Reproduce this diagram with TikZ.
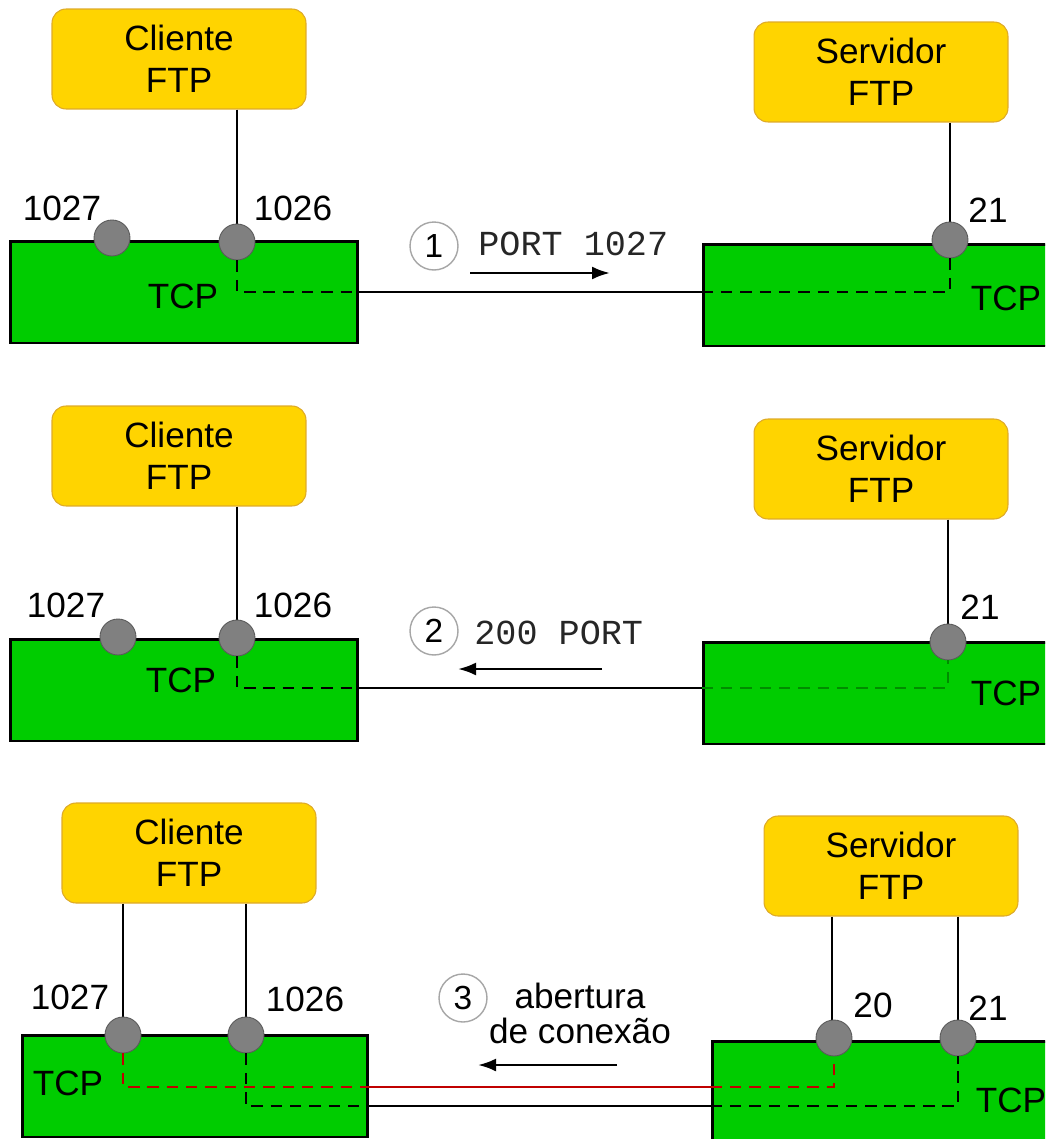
\documentclass[tikz,border=0pt]{standalone}
\usepackage{fontspec}
\setsansfont{Liberation Sans}
\setmonofont{Liberation Mono}
\usepackage{xcolor}
\usepackage{tikz}
\usetikzlibrary{arrows.meta,positioning}
\definecolor{appgold}{RGB}{255,212,0}
\definecolor{appedge}{RGB}{222,170,40}
\definecolor{tcpgreen}{RGB}{0,204,0}
\definecolor{portgray}{RGB}{128,128,128}
\definecolor{dataRed}{RGB}{192,0,0}

\begin{document}
\begin{tikzpicture}[
  x=0.02cm, y=-0.02cm,
  font=\sffamily\fontsize{20}{24}\selectfont,
  app/.style={draw=appedge, fill=appgold, rounded corners=0.28cm, line width=0.6pt,
              align=center, minimum width=5.08cm, minimum height=2cm, inner sep=0pt},
  tcpbox/.style={draw, fill=tcpgreen, line width=1.7pt, minimum height=2.04cm, inner sep=0pt},
  port/.style={circle, draw=portgray!70!black, fill=portgray, line width=0.5pt,
               minimum size=0.72cm, inner sep=0pt},
  plabel/.style={inner sep=0pt},
  stepnum/.style={circle, draw=black!35, line width=0.8pt, minimum size=0.96cm,
                  inner sep=0pt, font=\sffamily\fontsize{19}{20}\selectfont},
  msg/.style={anchor=west, inner sep=0pt, text=black!85,
              font=\ttfamily\fontsize{20}{24}\selectfont},
  conn/.style={line width=1.5pt},
  dconn/.style={conn, dash pattern=on 6.5pt off 4.5pt},
  ar/.style={line width=1.5pt, -{Latex[length=3.6mm, width=2.6mm]}}
]
\useasboundingbox (0,0) rectangle (1045,1139);
\clip (0,0) rectangle (1045,1139);

% ---- 1: PORT 1027
\node[app] (cli1) at (179,59) {Cliente\\FTP};
\node[app] (srv1) at (881,72) {Servidor\\FTP};
\node[tcpbox, minimum width=6.96cm] (ctcp1) at (184,292) {};
\node[tcpbox, minimum width=7.2cm] (stcp1) at (883,295) {};
\node (ttc1) at (183,296) {TCP};
\node (tts1) at (1006,298) {TCP};
\draw[conn] (cli1.south -| 237,0) -- (237,242);
\draw[conn] (srv1.south -| 950,0) -- (950,240);
\node[port] (p1027a) at (112,238) {};
\node[port] (p1026a) at (237,242) {};
\node[port, minimum width=0.68cm] (p21a) at (950,240) {};
\node[plabel] (l1027a) at (62,208) {1027};
\node[plabel] (l1026a) at (293,208) {1026};
\node[plabel] (l21a) at (988,210) {21};

\coordinate (c1) at (237,292);
\coordinate (s1) at (950,292);
\draw[dconn] (p1026a) -- (c1) -- (c1 -| ctcp1.east);
\draw[conn] (c1 -| ctcp1.east) -- (s1 -| stcp1.west);
\draw[dconn] (s1 -| stcp1.west) -- (s1) -- (p21a);

\node[stepnum] (n1) at (434,246) {1};
\node[msg] (m1) at (478,244) {PORT 1027};
\coordinate (a1s) at (470,273);
\coordinate (a1e) at (610,273);
\draw[ar] (a1s) -- (a1e);

% ---- 2: 200 PORT
\node[app] (cli2) at (179,456) {Cliente\\FTP};
\node[app] (srv2) at (881,469) {Servidor\\FTP};
\node[tcpbox, minimum width=6.96cm] (ctcp2) at (184,690) {};
\node[tcpbox, minimum width=7.2cm] (stcp2) at (883,693) {};
\node (ttc2) at (181,680) {TCP};
\node (tts2) at (1006,693) {TCP};
\draw[conn] (cli2.south -| 237,0) -- (237,638);
\draw[conn] (srv2.south -| 948,0) -- (948,642);
\node[port] (p1027b) at (118,637) {};
\node[port] (p1026b) at (237,638) {};
\node[port, minimum width=0.68cm] (p21b) at (948,642) {};
\node[plabel] (l1027b) at (66,605) {1027};
\node[plabel] (l1026b) at (293,605) {1026};
\node[plabel] (l21b) at (980,607) {21};

\coordinate (c2) at (237,688);
\coordinate (s2) at (948,688);
\draw[dconn] (p1026b) -- (c2) -- (c2 -| ctcp2.east);
\draw[conn] (c2 -| ctcp2.east) -- (s2 -| stcp2.west);
\draw[dconn, green!55!black] (s2 -| stcp2.west) -- (s2) -- (p21b);

\node[stepnum] (n2) at (434,631) {2};
\node[msg] (m2) at (474,633) {200 PORT};
\coordinate (a2s) at (602,669);
\coordinate (a2e) at (458,669);
\draw[ar] (a2s) -- (a2e);

% ---- 3: abertura de conexao
\node[app] (cli3) at (189,853) {Cliente\\FTP};
\node[app] (srv3) at (891,866) {Servidor\\FTP};
\node[tcpbox, minimum width=6.92cm] (ctcp3) at (195,1086) {};
\node[tcpbox, minimum width=7.2cm] (stcp3) at (892,1092) {};
\node (ttc3) at (68,1083) {TCP};
\node (tts3) at (1011,1100) {TCP};
\draw[conn] (cli3.south -| 123,0) -- (123,1035);
\draw[conn] (cli3.south -| 246,0) -- (246,1035);
\draw[conn] (srv3.south -| 832,0) -- (832,1038);
\draw[conn] (srv3.south -| 958,0) -- (958,1038);
\node[port] (p1027c) at (123,1035) {};
\node[port] (p1026c) at (246,1035) {};
\node[port, minimum width=0.68cm] (p20c) at (834,1038) {};
\node[port, minimum width=0.68cm] (p21c) at (958,1038) {};
\node[plabel] (l1027c) at (70,997) {1027};
\node[plabel] (l1026c) at (305,999) {1026};
\node[plabel] (l20c) at (873,1005) {20};
\node[plabel] (l21c) at (988,1008) {21};

\coordinate (c3r) at (123,1087);
\coordinate (s3r) at (834,1087);
\draw[dconn, dataRed] (p1027c) -- (c3r) -- (c3r -| ctcp3.east);
\draw[conn, dataRed] (c3r -| ctcp3.east) -- (s3r -| stcp3.west);
\draw[dconn, dataRed] (s3r -| stcp3.west) -- (s3r) -- (p20c);

\coordinate (c3) at (246,1106);
\coordinate (s3) at (958,1106);
\draw[dconn] (p1026c) -- (c3) -- (c3 -| ctcp3.east);
\draw[conn] (c3 -| ctcp3.east) -- (s3 -| stcp3.west);
\draw[dconn] (s3 -| stcp3.west) -- (s3) -- (p21c);

\node[stepnum] (n3) at (463,998) {3};
\node[align=center, inner sep=0pt, font=\sffamily\fontsize{20}{20}\selectfont]
  (m3) at (580,1013) {abertura\\de conexão};
\coordinate (a3s) at (617,1065);
\coordinate (a3e) at (478,1065);
\draw[ar] (a3s) -- (a3e);
\end{tikzpicture}
\end{document}
